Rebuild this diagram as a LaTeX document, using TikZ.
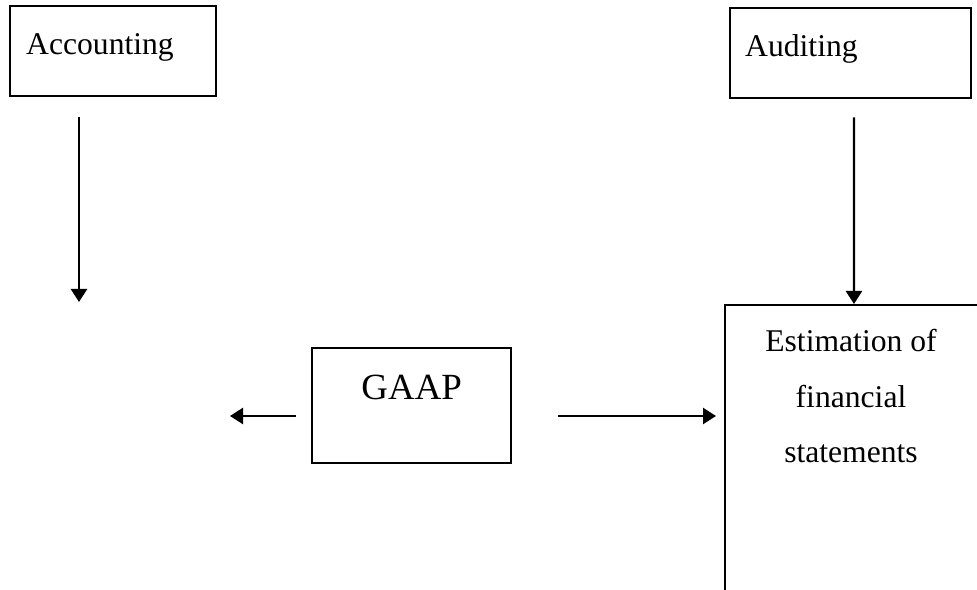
\documentclass[tikz,border=0pt]{standalone}
\usepackage{fontspec}
\setmainfont{Liberation Serif}
\usetikzlibrary{arrows.meta}
\tikzset{>={Triangle[length=0.26cm, width=0.32cm]}}
\tikzset{
	box/.style={draw, line width=1.4pt, inner ysep=0pt, font=\fontsize{18}{22}\selectfont},
	frame/.style={draw, line width=1.4pt, inner sep=0pt},
	link/.style={line width=1.4pt, ->}
}

\begin{document}
\begin{tikzpicture}[x=0.02cm, y=-0.02cm]
    \useasboundingbox (0, 0) rectangle (977, 590);
    \clip (0, 0) rectangle (977, 590);
    \node[box, anchor=north west, inner xsep=0.32cm, text width=3.48cm, align=left,
        text height=0.96cm, text depth=0.84cm](acc) at (9, 5) {Accounting};
    \node[box, anchor=north west, inner xsep=0.3cm, text width=4.22cm, align=left,
        text height=0.96cm, text depth=0.84cm](aud) at (729, 7) {Auditing};
    \node[box, anchor=north west, inner xsep=0pt, text width=3.98cm, align=center,
        text height=1.02cm, text depth=1.28cm, font=\fontsize{21}{25}\selectfont](gaap) at (311, 347) {GAAP};
    \node[frame, anchor=north west, minimum width=6.4cm, minimum height=6.4cm](est) at (724, 304) {};
    \node[anchor=north, inner sep=0pt, align=center, font=\fontsize{18}{31.6}\selectfont](esttxt)
        at (851, 329) {Estimation of\\financial\\statements};
    \coordinate (accend) at (79, 302);
    \coordinate (gl) at (230, 416);
    \draw[link]([shift={(70, 20)}]acc.south west)--(accend);
    \draw[link]([shift={(125, 18)}]aud.south west)--([xshift=2.6cm]est.north west);
    \draw[link]([xshift=-0.3cm]gaap.west |- gl)--(gl);
    \draw[link]([xshift=0.92cm]gaap.east |- gl)--([xshift=-0.16cm]est.west |- gl);
\end{tikzpicture}
\end{document}
